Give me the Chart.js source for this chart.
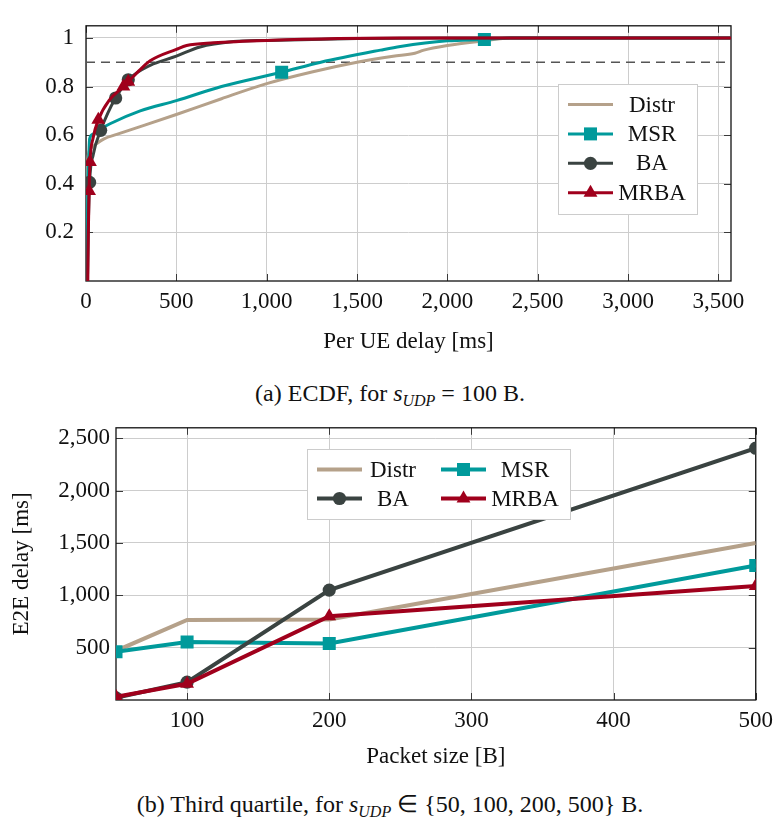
<!DOCTYPE html>
<html>
<head>
<meta charset="utf-8">
<script src="https://cdn.jsdelivr.net/npm/chart.js@4.4.1/dist/chart.umd.min.js"></script>
<style>
  html, body { margin: 0; padding: 0; background: #fff; }
  body { width: 780px; height: 827px; position: relative; overflow: hidden; font-family: 'Liberation Serif', serif; color: #111; }
  canvas { position: absolute; left: 0; }
  #ecdfChart { top: 0; }
  #e2eChart { top: 408px; }
  .caption { position: absolute; left: 0; width: 780px; text-align: center; font-size: 24px; line-height: 28px; }
  .caption sub { font-size: 16px; line-height: 0; vertical-align: -5px; }
</style>
</head>
<body>
<canvas id="ecdfChart" width="780" height="362"></canvas>
<div class="caption" style="top:379px">(a) ECDF, for <i>s</i><sub><i>UDP</i></sub> = 100 B.</div>
<canvas id="e2eChart" width="780" height="372"></canvas>
<div class="caption" style="top:790px">(b) Third quartile, for <i>s</i><sub><i>UDP</i></sub> &isin; {50, 100, 200, 500} B.</div>
<script>
// ---- (a) ECDF of per-UE delay, s_UDP = 100 B ----
const distrDelay = [3, 5, 10, 25, 60, 100, 170, 300, 500, 750, 1000, 1250, 1500, 1700, 1820, 1870, 2000, 2200, 2350, 3570];
const distrCdf   = [0, 0.3, 0.5, 0.545, 0.566, 0.585, 0.603, 0.635, 0.685, 0.75, 0.812, 0.86, 0.9, 0.925, 0.937, 0.95, 0.969, 0.988, 1, 1];

const msrDelay = [5, 10, 15, 20, 40, 80, 133, 300, 500, 750, 1083, 1300, 1630, 1740, 2000, 2205, 2350, 3570];
const msrCdf   = [0, 0.4, 0.5, 0.585, 0.605, 0.625, 0.647, 0.7, 0.742, 0.8, 0.859, 0.9, 0.95, 0.965, 0.988, 0.994, 1, 1];
const msrMarks = [10, 15];

const baDelay = [8, 12, 20, 40, 81, 120, 164, 234, 355, 500, 631, 816, 1000, 1500, 2000, 3570];
const baCdf   = [0, 0.2, 0.406, 0.52, 0.62, 0.69, 0.753, 0.828, 0.887, 0.925, 0.963, 0.985, 0.99, 0.998, 1, 1];
const baMarks = [2, 4, 6, 7];

const mrbaDelay = [10, 13, 17, 22, 40, 68, 130, 207, 234, 300, 355, 500, 557, 705, 1000, 1740, 3570];
const mrbaCdf   = [0, 0.2, 0.37, 0.49, 0.59, 0.663, 0.745, 0.80, 0.82, 0.87, 0.906, 0.953, 0.969, 0.98, 0.99, 1, 1];
const mrbaMarks = [2, 3, 5, 7, 8];

const refLevel = 0.9;
const ecdfXTicks = [0, 500, 1000, 1500, 2000, 2500, 3000, 3500];
const ecdfYTicks = [0.2, 0.4, 0.6, 0.8, 1];

// ---- (b) third quartile of E2E delay vs packet size ----
const packetSizes = [50, 100, 200, 500];
const distrQ3 = [470, 765, 770, 1500];
const msrQ3   = [460, 555, 540, 1285];
const baQ3    = [20, 170, 1050, 2405];
const mrbaQ3  = [30, 155, 800, 1090];
const e2eXTicks = [100, 200, 300, 400, 500];
const e2eYTicks = [500, 1000, 1500, 2000, 2500];

const COLORS = { distr: '#b5a18a', msr: '#009a9b', ba: '#3a4341', mrba: '#a0001c' };
const GRID = '#cdcdcd';
const FAMILY = '"Liberation Serif", "Times New Roman", serif';

Chart.defaults.font.family = FAMILY;
Chart.defaults.font.size = 23;
Chart.defaults.color = '#111';

const fmt = v => v.toLocaleString('en-US');
const toPoints = (xs, ys) => xs.map((x, i) => ({ x: x, y: ys[i] }));

const STYLES = {
    Distr: { color: COLORS.distr, point: false, radius: 0 },
    MSR: { color: COLORS.msr, point: 'rect', radius: 9.2 },
    BA: { color: COLORS.ba, point: 'circle', radius: 6.6 },
    MRBA: { color: COLORS.mrba, point: 'triangle', radius: 8 }
};

function series(label, points, marks, width, order, smooth) {
    const st = STYLES[label];
    return {
        label: label,
        data: points,
        borderColor: st.color,
        backgroundColor: st.color,
        borderWidth: width,
        pointStyle: st.point || 'circle',
        pointRadius: ctx => (marks === null || marks.includes(ctx.dataIndex)) && st.point ? st.radius : 0,
        pointBorderWidth: 0,
        cubicInterpolationMode: smooth ? 'monotone' : 'default',
        tension: 0,
        order: order
    };
}

// frame + inward ticks on all four sides, like pgfplots
const frameTicks = {
    id: 'frameTicks',
    beforeDatasetsDraw(chart) {
        const { ctx, chartArea: a, scales } = chart;
        const len = 7;
        ctx.save();
        ctx.strokeStyle = '#3a3a3a';
        ctx.lineWidth = 1;
        ctx.beginPath();
        scales.x.ticks.forEach(t => {
            const px = Math.round(scales.x.getPixelForValue(t.value)) + 0.5;
            ctx.moveTo(px, a.bottom); ctx.lineTo(px, a.bottom - len);
            ctx.moveTo(px, a.top); ctx.lineTo(px, a.top + len);
        });
        scales.y.ticks.forEach(t => {
            const py = Math.round(scales.y.getPixelForValue(t.value)) + 0.5;
            ctx.moveTo(a.left, py); ctx.lineTo(a.left + len, py);
            ctx.moveTo(a.right, py); ctx.lineTo(a.right - len, py);
        });
        ctx.stroke();
        ctx.strokeStyle = '#111';
        ctx.lineWidth = 1.3;
        ctx.strokeRect(a.left, a.top, a.right - a.left, a.bottom - a.top);
        ctx.restore();
    }
};

// boxed legend inside the plot
const boxLegend = {
    id: 'boxLegend',
    afterDraw(chart, args, opts) {
        const { ctx } = chart;
        const [bx0, by0, bx1, by1] = opts.box;
        ctx.save();
        ctx.fillStyle = '#fff';
        ctx.fillRect(bx0, by0, bx1 - bx0, by1 - by0);
        ctx.strokeStyle = '#cccccc';
        ctx.lineWidth = 1;
        ctx.strokeRect(bx0 + 0.5, by0 + 0.5, bx1 - bx0, by1 - by0);
        opts.items.forEach((label, i) => {
            const st = STYLES[label];
            const col = i % opts.cols;
            const row = Math.floor(i / opts.cols);
            const x0 = opts.x + col * opts.colWidth;
            const y = opts.y + row * opts.rowHeight;
            ctx.strokeStyle = st.color;
            ctx.fillStyle = st.color;
            ctx.lineWidth = opts.lineWidth;
            ctx.beginPath();
            ctx.moveTo(x0, y); ctx.lineTo(x0 + opts.lineLen, y);
            ctx.stroke();
            if (st.point) {
                Chart.helpers.drawPoint(ctx, { pointStyle: st.point, radius: st.radius, rotation: 0, borderWidth: 0 }, x0 + opts.lineLen / 2, y);
            }
            ctx.fillStyle = '#111';
            ctx.font = '23px ' + FAMILY;
            ctx.textAlign = 'center';
            ctx.textBaseline = 'middle';
            ctx.fillText(label, x0 + opts.textOffset[col], y + 1);
        });
        ctx.restore();
    }
};

function drawCharts() {
    const refLine = {
        label: 'ref',
        data: [{ x: 0, y: refLevel }, { x: 3570, y: refLevel }],
        borderColor: '#555',
        borderWidth: 1.4,
        borderDash: [9, 6],
        pointRadius: 0,
        order: 10
    };

    new Chart(document.getElementById('ecdfChart'), {
        type: 'line',
        data: {
            datasets: [
                series('Distr', toPoints(distrDelay, distrCdf), [], 3, 4, true),
                series('MSR', toPoints(msrDelay, msrCdf), msrMarks, 3, 3, true),
                series('BA', toPoints(baDelay, baCdf), baMarks, 3, 2, true),
                series('MRBA', toPoints(mrbaDelay, mrbaCdf), mrbaMarks, 3, 1, true),
                refLine
            ]
        },
        options: {
            animation: false,
            responsive: false,
            devicePixelRatio: 1,
            events: [],
            layout: { padding: { top: 3, right: 49, left: 0, bottom: 0 } },
            plugins: {
                legend: { display: false },
                tooltip: { enabled: false },
                boxLegend: {
                    box: [558, 84, 697, 214],
                    items: ['Distr', 'MSR', 'BA', 'MRBA'],
                    cols: 1, x: 568, y: 104.5, colWidth: 0, rowHeight: 29.4,
                    lineLen: 45, lineWidth: 3, textOffset: [84]
                }
            },
            scales: {
                x: {
                    type: 'linear', min: 0, max: 3570,
                    afterBuildTicks: s => { s.ticks = ecdfXTicks.map(v => ({ value: v })); },
                    afterFit: s => { s.height = 81; },
                    ticks: { padding: 7, autoSkip: false, maxRotation: 0, callback: v => fmt(v) },
                    grid: { color: GRID, drawTicks: false },
                    border: { display: false },
                    title: { display: true, text: 'Per UE delay [ms]', padding: { top: 0, bottom: 6 } }
                },
                y: {
                    type: 'linear', min: 0, max: 1.05,
                    afterBuildTicks: s => { s.ticks = ecdfYTicks.map(v => ({ value: v })); },
                    afterFit: s => { s.width = 86; },
                    ticks: { padding: 12, autoSkip: false, callback: v => String(v) },
                    grid: { color: GRID, drawTicks: false },
                    border: { display: false }
                }
            }
        },
        plugins: [frameTicks, boxLegend]
    });

    new Chart(document.getElementById('e2eChart'), {
        type: 'line',
        data: {
            datasets: [
                series('Distr', toPoints(packetSizes, distrQ3), null, 4, 4, false),
                series('MSR', toPoints(packetSizes, msrQ3), null, 4, 3, false),
                series('BA', toPoints(packetSizes, baQ3), null, 4, 2, false),
                series('MRBA', toPoints(packetSizes, mrbaQ3), null, 4, 1, false)
            ]
        },
        options: {
            animation: false,
            responsive: false,
            devicePixelRatio: 1,
            events: [],
            layout: { padding: { top: 14, right: 18, left: 0, bottom: 0 } },
            plugins: {
                legend: { display: false },
                tooltip: { enabled: false },
                boxLegend: {
                    box: [307, 41, 570, 111],
                    items: ['Distr', 'MSR', 'BA', 'MRBA'],
                    cols: 2, x: 317, y: 61.5, colWidth: 124, rowHeight: 29,
                    lineLen: 45, lineWidth: 4, textOffset: [76, 84]
                }
            },
            scales: {
                x: {
                    type: 'linear', min: 50, max: 500,
                    afterBuildTicks: s => { s.ticks = e2eXTicks.map(v => ({ value: v })); },
                    afterFit: s => { s.height = 80; },
                    ticks: { padding: 7, autoSkip: false, maxRotation: 0, callback: v => fmt(v) },
                    grid: { color: GRID, drawTicks: false },
                    border: { display: false },
                    title: { display: true, text: 'Packet size [B]', padding: { top: 0, bottom: 9 } }
                },
                y: {
                    type: 'linear', min: 0, max: 2600,
                    afterBuildTicks: s => { s.ticks = e2eYTicks.map(v => ({ value: v })); },
                    afterFit: s => { s.width = 116; },
                    ticks: { padding: 6, autoSkip: false, callback: v => fmt(v) },
                    grid: { color: GRID, drawTicks: false },
                    border: { display: false },
                    title: { display: true, text: 'E2E delay [ms]', padding: { top: 8, bottom: 0 } }
                }
            }
        },
        plugins: [frameTicks, boxLegend]
    });
}

// make sure the serif face is ready before the canvases paint text
document.fonts.load('23px "Liberation Serif"').then(drawCharts, drawCharts);
</script>
</body>
</html>
